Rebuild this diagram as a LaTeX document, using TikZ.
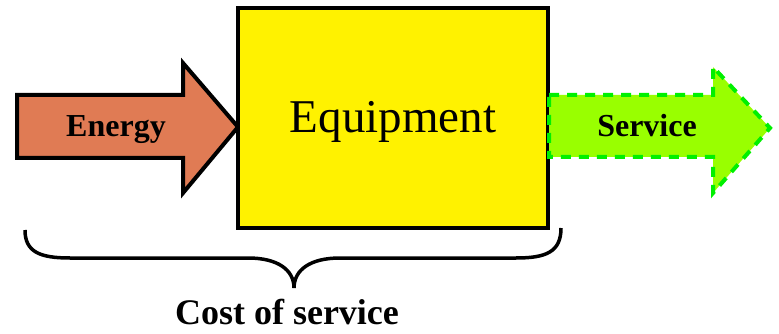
\documentclass[tikz,border=0pt]{standalone}
\usepackage{fontspec}
\setmainfont{Liberation Serif}
\definecolor{energyfill}{RGB}{224,123,84}
\definecolor{boxfill}{RGB}{255,242,0}
\definecolor{servicefill}{RGB}{153,255,0}
\definecolor{serviceline}{RGB}{0,240,0}
\begin{document}
\begin{tikzpicture}[x=1pt,y=-1pt,
  energyarrow/.style={draw=black, line width=4pt, fill=energyfill, line join=miter},
  servicearrow/.style={draw=serviceline, line width=4pt, fill=servicefill, dash pattern=on 10pt off 8pt},
  label/.style={font=\bfseries\fontsize{32}{36}\selectfont, inner sep=0pt, anchor=base}]
\useasboundingbox (0,0) rectangle (779,334);
\draw[energyarrow] (17,95) -- (183,95) -- (183,63) -- (238,127) -- (183,193) -- (183,158) -- (17,158) -- cycle;
\node[draw, line width=3.5pt, fill=boxfill, minimum width=310pt, minimum height=220pt] (equip) at (393,118) {};
\node[font=\fontsize{47}{50}\selectfont, inner sep=0pt, anchor=base] (equiptext) at (393,133) {Equipment};
\draw[servicearrow] (549,95) -- (713,95) -- (713,67) -- (770,128) -- (713,193) -- (713,157) -- (549,157) -- cycle;
\node[label] (energy) at (116,137) {Energy};
\node[label] (service) at (647,137) {Service};
% brace under the box
\draw[line width=3.5pt] (25,230) .. controls (25,252) and (40,258) .. (70,258) -- (248,258) .. controls (278,258) and (294,270) .. (294,288) .. controls (294,270) and (310,258) .. (340,258) -- (516,258) .. controls (546,258) and (561,252) .. (561,228);
\node[font=\bfseries\fontsize{36}{40}\selectfont, inner sep=0pt, anchor=base] (cost) at (287,324) {Cost of service};
\end{tikzpicture}
\end{document}
